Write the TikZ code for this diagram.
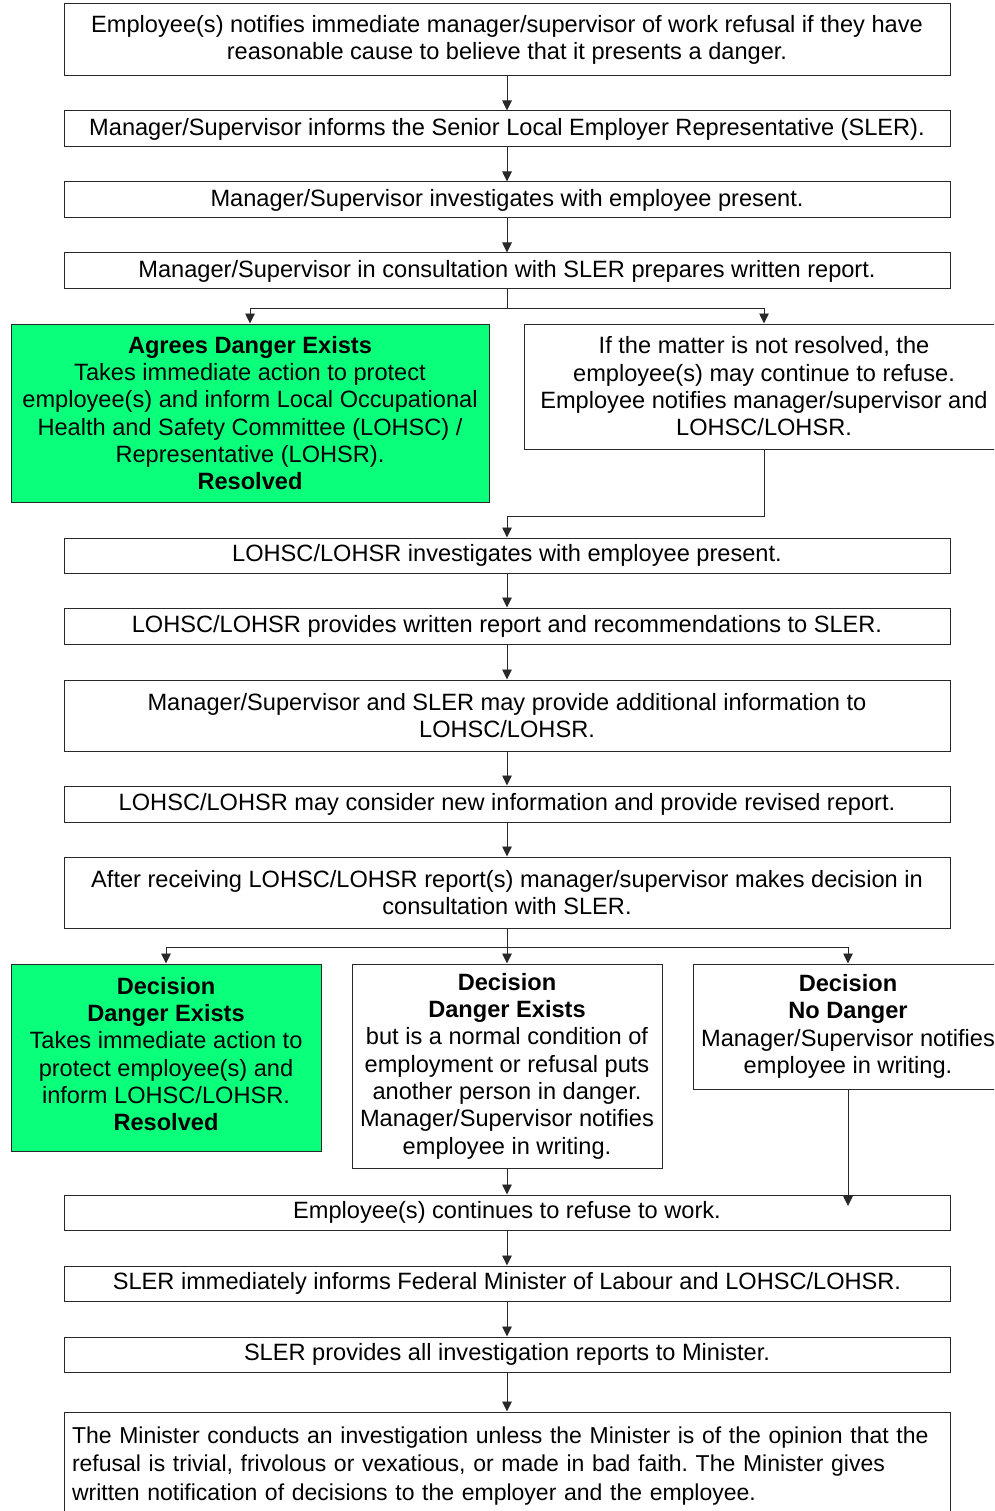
\documentclass[tikz,border=0pt]{standalone}
\usepackage{fontspec}
\setmainfont{Liberation Sans}
\usetikzlibrary{arrows.meta}
\definecolor{boxgreen}{RGB}{10,255,122}
\definecolor{edge}{RGB}{40,40,40}
\frenchspacing
\tikzset{
  box/.style={draw=edge, line width=1pt, rectangle, align=center, inner sep=0pt,
    font=\fontsize{23.6}{27.3}\selectfont, text=black},
  greenbox/.style={box, fill=boxgreen},
  conn/.style={draw=edge, line width=0.9pt},
  arr/.style={conn, -{Triangle[length=10pt,width=9.5pt]}}
}
\begin{document}
\begin{tikzpicture}[x=1pt,y=-1pt]
\useasboundingbox (0,0) rectangle (994,1511);
\clip (0,0) rectangle (994,1511);
\fill[white] (0,0) rectangle (994,1511);

\node[box, minimum width=886, minimum height=72] (b1) at (507,40)
  {Employee(s) notifies immediate manager/supervisor of work refusal if they have\\reasonable cause to believe that it presents a danger.};
\node[box, minimum width=886, minimum height=36] (b2) at (507,129)
  {Manager/Supervisor informs the Senior Local Employer Representative (SLER).};
\node[box, minimum width=886, minimum height=36] (b3) at (507,200)
  {Manager/Supervisor investigates with employee present.};
\node[box, minimum width=886, minimum height=36] (b4) at (507,271)
  {Manager/Supervisor in consultation with SLER prepares written report.};

\node[greenbox, minimum width=478, minimum height=178] (g1) at (250,413)
  {\textbf{Agrees Danger Exists}\\Takes immediate action to protect\\employee(s) and inform Local Occupational\\Health and Safety Committee (LOHSC) /\\Representative (LOHSR).\\\textbf{Resolved}};
\node[box, minimum width=480, minimum height=125] (r1) at (764,386.5)
  {If the matter is not resolved, the\\employee(s) may continue to refuse.\\Employee notifies manager/supervisor and\\LOHSC/LOHSR.};

\node[box, minimum width=886, minimum height=35] (b5) at (507,555.5)
  {LOHSC/LOHSR investigates with employee present.};
\node[box, minimum width=886, minimum height=36] (b6) at (507,626)
  {LOHSC/LOHSR provides written report and recommendations to SLER.};
\node[box, minimum width=886, minimum height=71] (b7) at (507,715.5)
  {Manager/Supervisor and SLER may provide additional information to\\LOHSC/LOHSR.};
\node[box, minimum width=886, minimum height=36] (b8) at (507,804)
  {LOHSC/LOHSR may consider new information and provide revised report.};
\node[box, minimum width=886, minimum height=71] (b9) at (507,892.5)
  {After receiving LOHSC/LOHSR report(s) manager/supervisor makes decision in\\consultation with SLER.};

\node[greenbox, minimum width=310, minimum height=187] (d1) at (166,1057.5)
  {\textbf{Decision}\\\textbf{Danger Exists}\\Takes immediate action to\\protect employee(s) and\\inform LOHSC/LOHSR.\\\textbf{Resolved}\\[-20pt]\mbox{}};
\node[box, minimum width=310, minimum height=204] (d2) at (507,1066)
  {\textbf{Decision}\\\textbf{Danger Exists}\\but is a normal condition of\\employment or refusal puts\\another person in danger.\\Manager/Supervisor notifies\\employee in writing.};
\node[box, minimum width=310, minimum height=125] (d3) at (848,1026.5)
  {\textbf{Decision}\\\textbf{No Danger}\\Manager/Supervisor notifies\\employee in writing.};

\node[box, minimum width=886, minimum height=35] (b10) at (507,1212.5)
  {Employee(s) continues to refuse to work.};
\node[box, minimum width=886, minimum height=35] (b11) at (507,1283.5)
  {SLER immediately informs Federal Minister of Labour and LOHSC/LOHSR.};
\node[box, minimum width=886, minimum height=108, align=left, text width=870,
  font=\fontsize{23}{28.5}\selectfont] (b13) at (507,1466)
  {The Minister conducts an investigation unless the Minister is of the opinion that the\\refusal is trivial, frivolous or vexatious, or made in bad faith. The Minister gives\\written notification of decisions to the employer and the employee.};
\node[box, minimum width=886, minimum height=35] (b12) at (507,1354.5)
  {SLER provides all investigation reports to Minister.};

\draw[arr] (b1) -- (b2);
\draw[arr] (b2) -- (b3);
\draw[arr] (b3) -- (b4);
\draw[conn] (b4.south) -- (507,308) coordinate (j1);
\draw[arr] (j1) -| (g1.north);
\draw[arr] (j1) -| (r1.north);
\draw[arr] (r1.south) |- (507,516) coordinate (j2) -- (b5.north);
\draw[arr] (b5) -- (b6);
\draw[arr] (b6) -- (b7);
\draw[arr] (b7) -- (b8);
\draw[arr] (b8) -- (b9);
\draw[conn] (b9.south) -- (507,947) coordinate (j3);
\draw[arr] (j3) -| (d1.north);
\draw[arr] (j3) -- (d2.north);
\draw[arr] (j3) -| (d3.north);
\draw[arr] (d2) -- (b10);
\coordinate (e1) at (848,1206);
\draw[arr] (d3.south) -- (e1);
\draw[arr] (b10) -- (b11);
\draw[arr] (b11) -- (b12);
\draw[arr] (b12) -- (b13);
\end{tikzpicture}
\end{document}
